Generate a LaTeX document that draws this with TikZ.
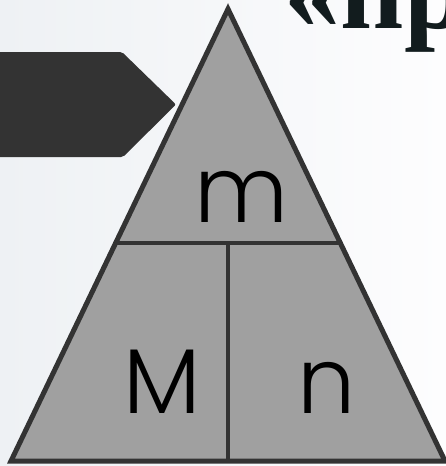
\documentclass[tikz,border=0pt]{standalone}
\usepackage{fontspec}
\setmainfont{Liberation Serif}
\newfontfamily\geofont{Poppins Light}
\definecolor{bgl}{HTML}{EEF1F4}
\definecolor{bgr}{HTML}{FDFDFE}
\definecolor{darkshape}{HTML}{333333}
\definecolor{trifill}{HTML}{A0A0A0}
\definecolor{titlecol}{HTML}{121C1E}
\tikzset{
  outline/.style={draw=darkshape, line width=5pt, line join=miter, fill=trifill},
  divider/.style={draw=darkshape, line width=3.5pt},
  letter/.style={font=\geofont\fontsize{92}{92}\selectfont, text=black, inner sep=0pt, anchor=base},
}
\begin{document}
\begin{tikzpicture}[x=1pt,y=-1pt]
\useasboundingbox (0,0) rectangle (446,466);
\clip (0,0) rectangle (446,466);
\shade[left color=bgl, right color=bgr] (0,0) rectangle (446,466);
% dark arrow shape
\fill[darkshape, rounded corners=2pt] (-10,52) -- (122,52) -- (176,104.5) -- (123,157) -- (-10,157) -- cycle;
% title fragment
\node[font=\bfseries\fontsize{112}{112}\selectfont, text=titlecol, inner sep=0pt, anchor=base west] (title) at (284,28) {«пр};
% triangle
\coordinate (apex) at (228,9);
\coordinate (bl) at (11,461);
\coordinate (br) at (445,461);
\path[outline] (apex) -- (bl) -- (br) -- cycle;
\coordinate (hl) at (116,243);
\coordinate (hr) at (339,243);
\coordinate (vt) at (228,243);
\coordinate (vb) at (228,461);
\draw[divider] (hl) -- (hr);
\draw[divider] (vt) -- (vb);
\node[letter] (m) at (242,222) {m};
\node[letter] (M) at (162,413) {M};
\node[letter] (n) at (327,413) {n};
\end{tikzpicture}
\end{document}
